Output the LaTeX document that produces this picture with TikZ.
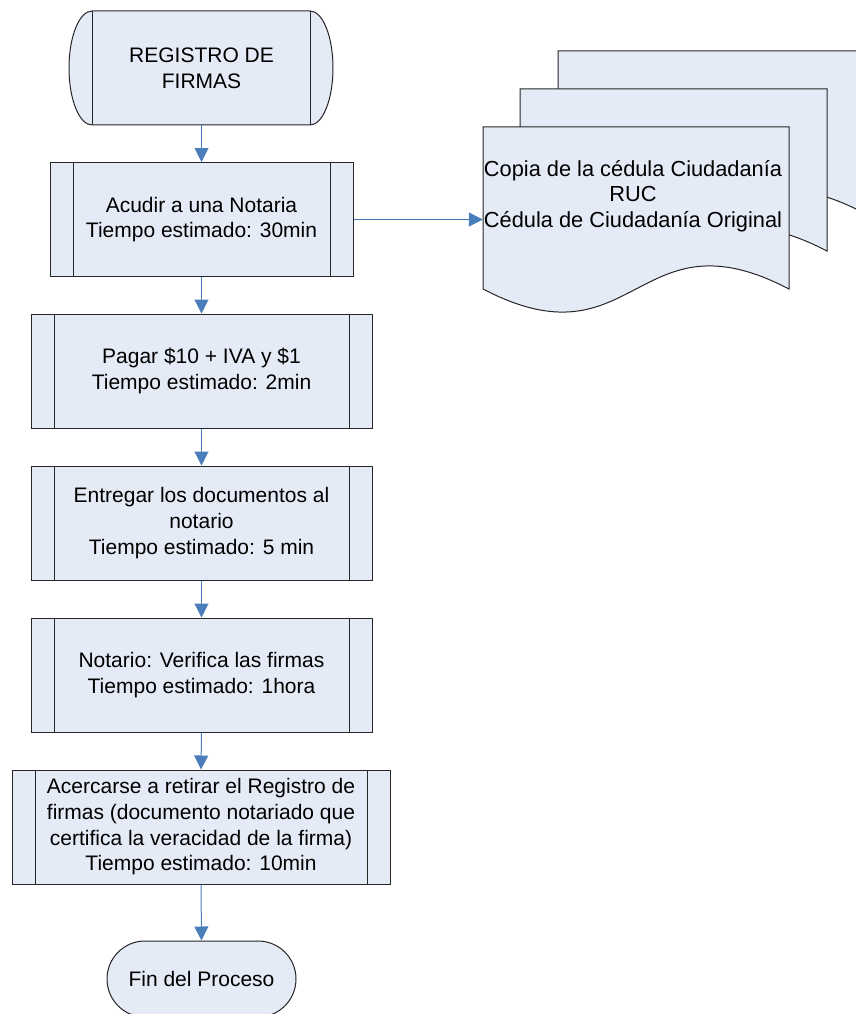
\documentclass[tikz,border=0pt]{standalone}
\usepackage{fontspec}
\setmainfont{Liberation Sans}
\usetikzlibrary{arrows.meta}
\definecolor{boxfill}{HTML}{E5EBF6}
\definecolor{flowblue}{HTML}{4A7EBB}
\definecolor{edgeline}{HTML}{262626}
\tikzset{
  base/.style={fill=boxfill, draw=edgeline, line width=1pt, inner sep=0pt,
    align=center, font=\fontsize{21}{25.7}\selectfont},
  label text/.style={inner sep=0pt, align=center, font=\fontsize{21}{25.7}\selectfont},
  procbox/.style={base, rectangle, minimum height=114pt,
    path picture={
      \draw[edgeline, line width=1pt]
        ([xshift=23pt]path picture bounding box.north west) --
        ([xshift=23pt]path picture bounding box.south west)
        ([xshift=-23pt]path picture bounding box.north east) --
        ([xshift=-23pt]path picture bounding box.south east);
    }},
  flow/.style={draw=flowblue, line width=1pt, -{Triangle[length=14pt,width=14pt]}},
}
\begin{document}
\begin{tikzpicture}[x=1pt, y=-1pt]
  \useasboundingbox (0,0) rectangle (856,1014);
  \clip (0,0) rectangle (856,1014);

  % start shape: rounded-end predefined process
  \path[base] (92,11) -- (310,11)
    arc[start angle=90, end angle=-90, x radius=23pt, y radius=57pt]
    -- (92,125)
    arc[start angle=270, end angle=90, x radius=23pt, y radius=57pt] -- cycle;
  \draw[edgeline, line width=1pt] (92,11) -- (92,125) (310,11) -- (310,125);
  \node[label text, minimum width=263pt, minimum height=114pt] (start) at (201.5,68) {REGISTRO DE\\FIRMAS};

  % process steps
  \node[procbox, minimum width=303pt] (b1) at (201.5,219.5) {Acudir a una Notaria\\Tiempo estimado: 30min};
  \node[procbox, minimum width=341pt] (b2) at (201.5,371) {Pagar \$10 + IVA y \$1\\Tiempo estimado: 2min};
  \node[procbox, minimum width=341pt] (b3) at (201.5,523) {Entregar los documentos al\\notario\\Tiempo estimado: 5 min};
  \node[procbox, minimum width=341pt] (b4) at (201.5,675) {Notario: Verifica las firmas\\Tiempo estimado: 1hora};
  \node[procbox, minimum width=378pt] (b5) at (201,827) {Acercarse a retirar el Registro de\\firmas (documento notariado que\\certifica la veracidad de la firma)\\Tiempo estimado: 10min};

  % end terminator
  \node[base, rounded corners=38pt, minimum width=189pt, minimum height=76pt] (finish) at (201.5,979) {Fin del Proceso};

  % stacked documents
  \path[base] (558,51) -- (864,51) -- (864,213)
    .. controls (711,133) and (711,293) .. (558,213) -- cycle;
  \path[base] (520,89) -- (827,89) -- (827,251)
    .. controls (673.5,171) and (673.5,331) .. (520,251) -- cycle;
  \path[base] (483,127) -- (789,127) -- (789,289)
    .. controls (636,209) and (636,369) .. (483,289) -- cycle;
  \node[inner sep=0pt, minimum width=306pt, minimum height=162pt] (doc) at (636,208) {};
  \node[label text, font=\fontsize{21.8}{25.5}\selectfont] (doctext) at (633,196) {Copia de la cédula Ciudadanía\\RUC\\Cédula de Ciudadanía Original};

  % connectors
  \draw[flow] (start.south) -- (b1.north);
  \draw[flow] (b1.south) -- (b2.north);
  \draw[flow] (b2.south) -- (b3.north);
  \draw[flow] (b3.south) -- (b4.north);
  \draw[flow] (b4.south) -- (b5.north);
  \draw[flow] (b5.south) -- (finish.north);
  \draw[flow] (b1.east) -- (b1.east -| doc.west);
\end{tikzpicture}
\end{document}
